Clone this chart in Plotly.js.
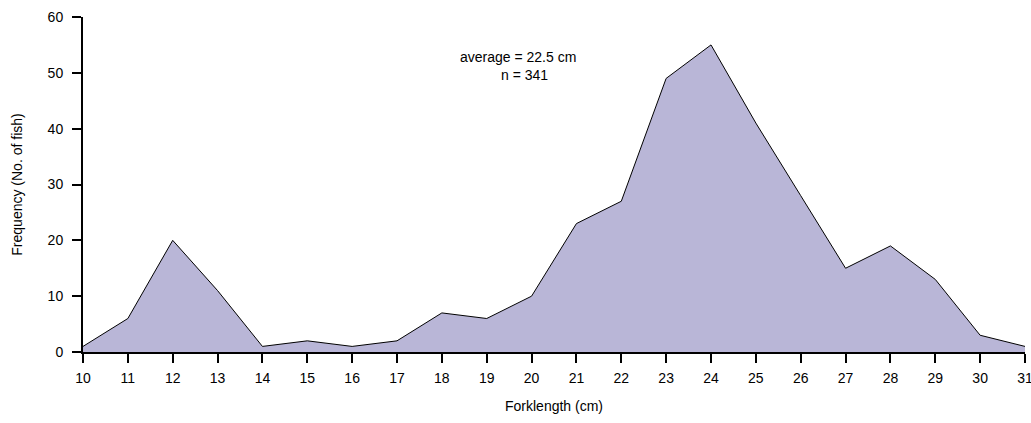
<!DOCTYPE html>
<html>
<head>
<meta charset="utf-8">
<script src="https://cdn.plot.ly/plotly-3.0.1.min.js"></script>
<style>html,body{margin:0;padding:0;background:#fff;}#chart{width:1031px;height:423px;}</style>
</head>
<body>
<div id="chart"></div>
<script>
const forklength = [10,11,12,13,14,15,16,17,18,19,20,21,22,23,24,25,26,27,28,29,30,31];
const frequency = [1,6,20,11,1,2,1,2,7,6,10,23,27,49,55,41,28,15,19,13,3,1];
const xTickLabels = forklength.map(String);
const yTicks = [0,10,20,30,40,50,60];
const noteLines = ["average = 22.5 cm", "n = 341"];

const trace = {
  x: forklength,
  y: frequency,
  type: 'scatter',
  mode: 'lines',
  fill: 'tozeroy',
  fillcolor: '#b9b6d7',
  line: {color: '#000', width: 1},
  hoverinfo: 'x+y'
};

const layout = {
  width: 1031, height: 423,
  margin: {l: 83, r: 6, t: 17, b: 71},
  paper_bgcolor: '#fff', plot_bgcolor: '#fff',
  font: {family: 'Liberation Sans, Arial, sans-serif', size: 14, color: '#000'},
  showlegend: false,
  xaxis: {
    range: [10, 31], tickvals: forklength, ticktext: xTickLabels,
    showgrid: false, zeroline: false, showline: true, linecolor: '#000', linewidth: 2,
    ticks: 'outside', ticklen: 9, tickwidth: 2, tickcolor: '#000',
    tickfont: {size: 14}, ticklabeloverflow: 'allow', ticklabelstandoff: 3,
    title: {text: 'Forklength (cm)', font: {size: 14}, standoff: 16}
  },
  yaxis: {
    range: [0, 60], tickvals: yTicks,
    showgrid: false, zeroline: false, showline: true, linecolor: '#000', linewidth: 2,
    ticks: 'outside', ticklen: 9, tickwidth: 2, tickcolor: '#000',
    tickfont: {size: 14}, ticklabelstandoff: 6,
    title: {text: 'Frequency (No. of fish)', font: {size: 14}, standoff: 22}
  },
  annotations: [
    {x: 0.4618, y: 0.8806, xref: 'paper', yref: 'paper', text: noteLines[0], showarrow: false, font: {size: 14}, xanchor: 'center', yanchor: 'middle'},
    {x: 0.4692, y: 0.827, xref: 'paper', yref: 'paper', text: noteLines[1], showarrow: false, font: {size: 14}, xanchor: 'center', yanchor: 'middle'}
  ]
};

Plotly.newPlot('chart', [trace], layout, {displayModeBar: false, staticPlot: true});
</script>
</body>
</html>
